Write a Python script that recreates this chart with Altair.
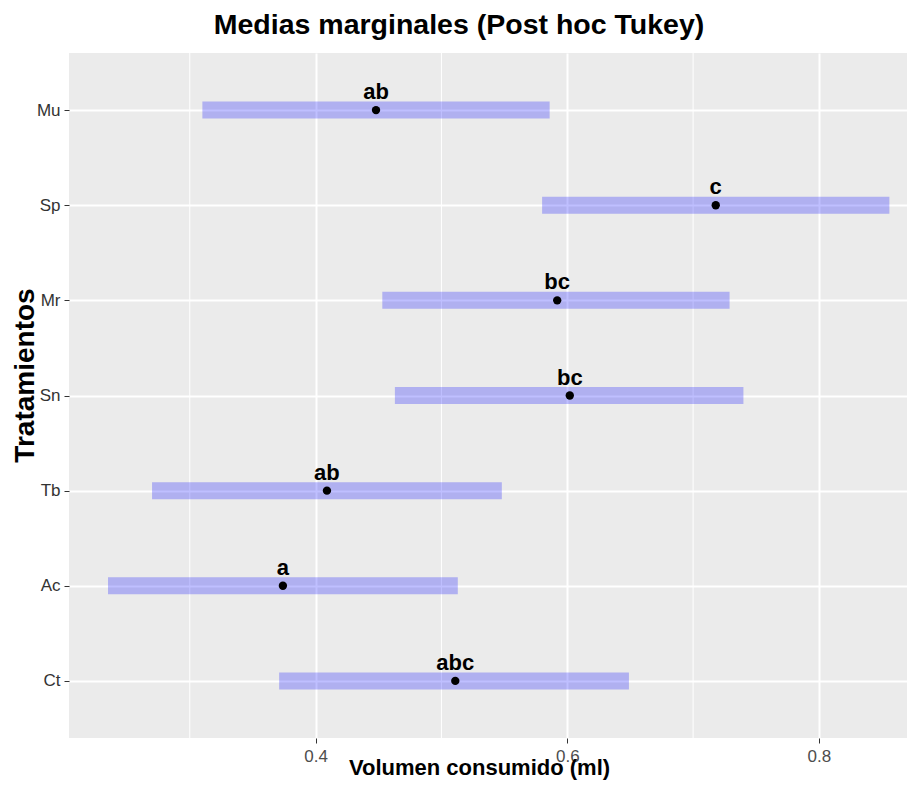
import altair as alt
import pandas as pd

# ---- data ----
tratamientos = ["Mu", "Sp", "Mr", "Sn", "Tb", "Ac", "Ct"]
medias = [0.448, 0.718, 0.592, 0.602, 0.409, 0.374, 0.511]
lim_inf = [0.310, 0.580, 0.453, 0.463, 0.270, 0.235, 0.371]
lim_sup = [0.586, 0.856, 0.729, 0.740, 0.548, 0.513, 0.649]
letras = ["ab", "c", "bc", "bc", "ab", "a", "abc"]
ticks_mayores = [0.4, 0.6, 0.8]
ticks_menores = [0.3, 0.5, 0.7]

df = pd.DataFrame({
    "trat": tratamientos,
    "media": medias,
    "li": lim_inf,
    "ls": lim_sup,
    "letra": letras,
})
df_minor = pd.DataFrame({"v": ticks_menores})

FONT = "Liberation Sans"
X_TITLE = "Volumen consumido (ml)"
Y_TITLE = "Tratamientos"

x_scale = alt.Scale(domain=[0.204, 0.870], nice=False, zero=False)
x_axis = alt.Axis(
    values=ticks_mayores, format=".1f", grid=True, gridColor="white", gridWidth=2,
    domain=False, ticks=True, tickColor="#333333", tickSize=5, tickWidth=1,
    labelFont=FONT, labelFontSize=17, labelColor="#4D4D4D", labelPadding=5,
    title=X_TITLE, titleFont=FONT, titleFontSize=22,
    titleFontWeight="bold", titleColor="black",
    titleBaseline="alphabetic", titleY=36, titleX=410,
)

y_scale = alt.Scale(type="point", domain=tratamientos, padding=0.6)
y_axis = alt.Axis(
    grid=True, gridColor="white", gridWidth=2, domain=False,
    ticks=True, tickColor="#333333", tickSize=5, tickWidth=1,
    labelFont=FONT, labelFontSize=17, labelColor="#333333", labelPadding=4,
    title=Y_TITLE, titleFont=FONT, titleFontSize=28,
    titleFontWeight="bold", titleColor="black",
    titleBaseline="alphabetic", titleX=-36, titleY=322,
)

minor = alt.Chart(df_minor).mark_rule(color="white", strokeWidth=1).encode(
    x=alt.X("v:Q", scale=x_scale, axis=x_axis, title=X_TITLE)
)

base = alt.Chart(df)

barras = base.mark_rule(color="#0000FF", opacity=0.25, strokeWidth=17, strokeCap="butt").encode(
    x=alt.X("li:Q", scale=x_scale, axis=x_axis, title=X_TITLE),
    x2="ls:Q",
    y=alt.Y("trat:N", scale=y_scale, axis=y_axis, sort=tratamientos, title=Y_TITLE),
)

puntos = base.mark_circle(color="black", opacity=1, size=70).encode(
    x=alt.X("media:Q", scale=x_scale, axis=x_axis, title=X_TITLE),
    y=alt.Y("trat:N", scale=y_scale, axis=y_axis, sort=tratamientos, title=Y_TITLE),
)

textos = base.mark_text(
    font=FONT, fontSize=22, fontWeight="bold", color="black",
    baseline="alphabetic", align="center", dy=-11,
).encode(
    x=alt.X("media:Q", scale=x_scale, axis=x_axis, title=X_TITLE),
    y=alt.Y("trat:N", scale=y_scale, axis=y_axis, sort=tratamientos, title=Y_TITLE),
    text="letra:N",
)

chart = alt.layer(minor, barras, puntos, textos).properties(
    width=838,
    height=685,
    title=alt.TitleParams(
        "Medias marginales (Post hoc Tukey)", font=FONT, fontSize=28.5,
        fontWeight="bold", color="black", anchor="middle", frame="bounds",
        baseline="alphabetic", offset=0, dy=10,
    ),
    autosize=alt.AutoSizeParams(type="none"),
    padding={"left": 61, "top": 45, "right": 0, "bottom": 42},
    background="white",
).configure_view(fill="#EBEBEB", strokeWidth=0)

chart.save("out.html", embed_options={"renderer": "svg", "actions": False})
